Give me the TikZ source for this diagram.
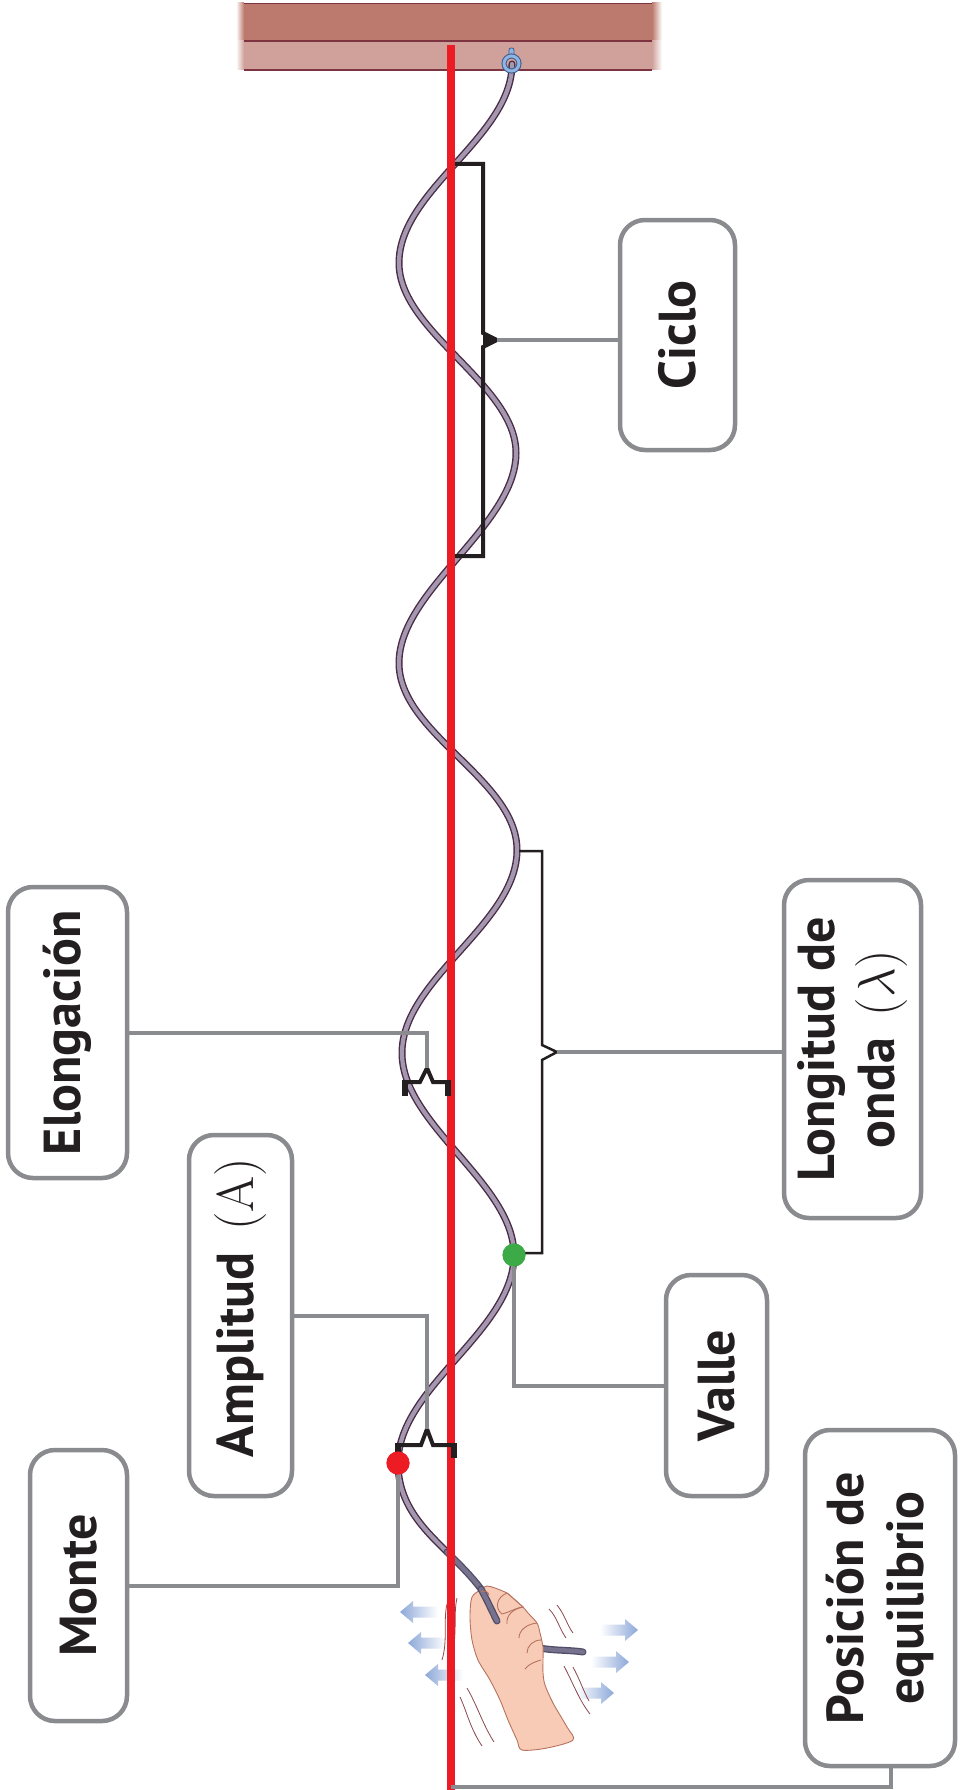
\RequirePackage{fix-cm}
\documentclass[tikz,border=0pt]{standalone}
\usepackage[no-math]{fontspec}
\setmainfont{PT Sans}
\usetikzlibrary{calc}

\definecolor{barTop}{HTML}{BC7A6E}
\definecolor{barBot}{HTML}{D0A09A}
\definecolor{barLine}{HTML}{7E3440}
\definecolor{eqRed}{HTML}{ED1C24}
\definecolor{boxGray}{HTML}{8A8B8E}
\definecolor{ink}{HTML}{231F20}
\definecolor{ropeEdge}{HTML}{4B2B45}
\definecolor{ropeFill}{HTML}{A497B0}
\definecolor{ropeEdgeLow}{HTML}{514D68}
\definecolor{ropeFillLow}{HTML}{77738E}
\definecolor{valleGreen}{HTML}{3DAA48}
\definecolor{arrowBlue}{HTML}{8DA8D9}
\definecolor{skin}{HTML}{F7CBB6}
\definecolor{skinLine}{HTML}{B8735F}
\definecolor{motion}{HTML}{8C4850}
\definecolor{ringBlue}{HTML}{8EB4E3}
\definecolor{ringLine}{HTML}{3C5C8C}

% the hanging rope, from the hook down to the hand
\newcommand{\ropeUpper}{(512,64)
  .. controls (512,137) and (399,190) .. (399,263)
  .. controls (399,332) and (516,384) .. (516,453)
  .. controls (516,526) and (399,590) .. (399,663)
  .. controls (399,734) and (517,779) .. (517,850)
  .. controls (517,924) and (402,979) .. (402,1053)
  .. controls (402,1125) and (514,1183) .. (514,1255)
  .. controls (514,1331) and (398,1387) .. (398,1463)
  .. controls (398,1505) and (425,1530) .. (447,1552)}
\newcommand{\ropeLower}{(447,1552)
  .. controls (462,1567) and (472,1577) .. (481,1589)
  .. controls (492,1605) and (505,1632) .. (522,1642)
  .. controls (540,1652) and (565,1649) .. (583,1652)}

\tikzset{
  leftarrow/.pic={\shade[left color=arrowBlue, middle color=arrowBlue, right color=white]
    (0,0) -- (13,-11) -- (13,-5.5) -- (38,-5.5) -- (38,5.5) -- (13,5.5) -- (13,11) -- cycle;},
  rightarrow/.pic={\shade[left color=white, middle color=arrowBlue, right color=arrowBlue]
    (0,-5.5) -- (25,-5.5) -- (25,-11) -- (38,0) -- (25,11) -- (25,5.5) -- (0,5.5) -- cycle;}
}

\begin{document}
\begin{tikzpicture}[x=1pt, y=-1pt,
  labelbox/.style={draw=boxGray, line width=4.5, rounded corners=25, fill=white, inner sep=0pt},
  boxtext/.style={rotate=90, align=center, text=ink, inner sep=0pt,
    font=\fontsize{52}{60}\selectfont\bfseries},
  leader/.style={draw=boxGray, line width=4},
  bracketline/.style={draw=ink, line width=4, miter limit=10},
  thinbracket/.style={draw=ink, line width=2.5, miter limit=10},
  bracketend/.style={draw=ink, line width=5.5},
  dot/.style={circle, inner sep=0pt, minimum size=23},
  motionline/.style={draw=motion, line width=0.8},
  skinstroke/.style={draw=skinLine, line width=0.9}
]
\useasboundingbox (0,0) rectangle (960,1790);
\fill[white] (0,0) rectangle (960,1790);

% ceiling beam
\fill[barTop] (244,3) rectangle (652,41);
\fill[barBot] (244,41) rectangle (652,70);
\shade[left color=white, right color=barTop] (236,3) rectangle (244,41);
\shade[left color=white, right color=barBot] (236,41) rectangle (244,70);
\shade[left color=barTop, right color=white] (652,3) rectangle (662,41);
\shade[left color=barBot, right color=white] (652,41) rectangle (662,70);
\draw[barLine, line width=1.2] (244,3.5) -- (652,3.5);
\draw[barLine, line width=1.4] (244,41) -- (652,41);
\draw[barLine, line width=1.2] (244,70) -- (652,70);

% shaking motion: arrows and strokes around the hand
\pic at (400,1612) {leftarrow};
\pic at (408,1643) {leftarrow};
\pic at (425,1675) {leftarrow};
\pic at (600,1630) {rightarrow};
\pic at (591,1662) {rightarrow};
\pic at (576,1693) {rightarrow};
\draw[motionline] (457,1598) .. controls (453,1615) and (458,1632) .. (451,1662);
\draw[motionline] (447,1604) .. controls (443,1622) and (448,1640) .. (442,1660);
\draw[motionline] (460,1697) .. controls (467,1712) and (470,1728) .. (482,1746);
\draw[motionline] (467,1688) .. controls (477,1705) and (483,1725) .. (494,1742);
\draw[motionline] (549,1609) .. controls (557,1617) and (559,1628) .. (566,1638);
\draw[motionline] (557,1605) .. controls (565,1615) and (567,1625) .. (573,1633);
\draw[motionline] (564,1666) .. controls (573,1683) and (579,1700) .. (590,1714);
\draw[motionline] (573,1667) .. controls (580,1680) and (583,1690) .. (589,1701);

% rope
\draw[ropeEdge, line width=7, line cap=round] \ropeUpper;
\draw[ropeFill, line width=4.2, line cap=round] \ropeUpper;
\draw[ropeEdgeLow, line width=7, line cap=round] \ropeLower;
\draw[ropeFillLow, line width=4.4, line cap=round] \ropeLower;

% hand holding the rope
\filldraw[fill=skin, skinstroke] plot[smooth cycle, tension=0.5] coordinates {
  (482,1589) (472,1597) (470,1617) (472,1640) (478,1660) (490,1680) (500,1700)
  (508,1720) (517,1740) (522,1750) (547,1748) (573,1740) (567,1727) (553,1703)
  (545,1685) (543,1673) (543,1660) (543,1647) (540,1633) (537,1623) (528,1613)
  (523,1607) (513,1598) (507,1593) (495,1588) (487,1586)};
\draw[ropeEdgeLow, line width=7, line cap=round] (481,1589) .. controls (487,1600) and (492,1611) .. (497,1621);
\draw[ropeFillLow, line width=4.4, line cap=round] (481,1589) .. controls (487,1600) and (492,1611) .. (497,1621);
\filldraw[fill=skin, skinstroke] (507,1593) .. controls (497,1597) and (494,1608) .. (502,1614)
  .. controls (510,1612) and (518,1607) .. (523,1607) -- cycle;
\draw[skinstroke] (523,1607) .. controls (513,1609) and (506,1615) .. (507,1624);
\draw[skinstroke] (537,1623) .. controls (527,1624) and (519,1630) .. (519,1638);
\draw[skinstroke] (541,1640) .. controls (533,1640) and (527,1646) .. (527,1653);
\draw[skinstroke] (541,1660) .. controls (534,1662) and (529,1664) .. (525,1669);
\draw[skinstroke] (481,1592) .. controls (484,1590) and (488,1591) .. (489,1595);

% hook in the beam
\filldraw[fill=ringBlue, draw=ringLine, line width=0.8, rounded corners=2] (509,48) rectangle (514,58);
\draw[ringLine, line width=5] (511.5,63.5) circle (7.5);
\draw[ringBlue, line width=3] (511.5,63.5) circle (7.5);

% equilibrium line
\coordinate (redTop) at (451,45);
\coordinate (redBot) at (451,1790);
\coordinate (eqPt) at (451,1787);
\draw[eqRed, line width=7.5] (redTop) -- (redBot);

% brackets
\coordinate (cicloTip) at (497,340);
\coordinate (longTip) at (557,1052);
\coordinate (elPk) at (427,1068);
\coordinate (amPk) at (427,1429);
\draw[bracketline] (455,164) -- (483,164) -- (483,333) -- (cicloTip) -- (483,347) -- (483,556) -- (455,556);
\fill[ink] (483,333) -- (cicloTip) -- (483,347) -- cycle;
\draw[thinbracket] (519,851) -- (542,851) -- (542,1045) -- (longTip) -- (542,1060) -- (542,1253) -- (514,1253);
\draw[bracketline] (405,1088) -- (405,1082) -- (420,1082) -- (elPk) -- (433,1082) -- (448,1082) -- (448,1088);
\draw[bracketend] (405,1080) -- (405,1096);
\draw[bracketend] (448,1080) -- (448,1096);
\draw[bracketline] (398,1451) -- (398,1445) -- (421,1445) -- (amPk) -- (433,1445) -- (454,1445) -- (454,1451);
\draw[bracketend] (398,1443) -- (398,1458);
\draw[bracketend] (454,1443) -- (454,1458);

% label boxes
\node[labelbox, minimum width=115, minimum height=230] (ciclo) at (677.5,335) {};
\node[labelbox, minimum width=119, minimum height=291] (elong) at (67.5,1032.5) {};
\node[labelbox, minimum width=103, minimum height=361] (ampl) at (240.5,1315.5) {};
\node[labelbox, minimum width=97, minimum height=271] (monte) at (78.5,1585.5) {};
\node[labelbox, minimum width=101, minimum height=221] (valle) at (716.5,1385.5) {};
\node[labelbox, minimum width=137, minimum height=338] (longitud) at (852.5,1049) {};
\node[labelbox, minimum width=150, minimum height=336] (posic) at (880,1598) {};

% crest and trough markers
\node[dot, fill=valleGreen] (valleDot) at (514,1255) {};
\node[dot, fill=eqRed] (monteDot) at (398,1463) {};

% leader lines
\draw[leader] (cicloTip) -- (cicloTip -| ciclo.west);
\draw[leader] (longTip) -- (longTip -| longitud.west);
\draw[leader] (elPk) |- (elong.east);
\draw[leader] (amPk) |- (ampl.east);
\draw[leader] (monteDot.south) |- (monte.east);
\draw[leader] (valleDot.south) |- (valle.west);
\draw[leader] (eqPt) -| ([xshift=11pt]posic.south);

% redraw the markers over their leaders
\node[dot, fill=valleGreen] at (valleDot) {};
\node[dot, fill=eqRed] at (monteDot) {};

% box texts
\node[boxtext] (cicloT) at (ciclo.center) {Ciclo};
\node[boxtext] (elongT) at (elong.center) {Elongación};
\node[boxtext] (amplT) at ([yshift=8pt]ampl.center) {Amplitud $\,(\mathrm{A})$};
\node[boxtext] (monteT) at (monte.center) {Monte};
\node[boxtext] (valleT) at (valle.center) {Valle};
\node[boxtext] (longitudT) at (longitud.center) {Longitud de\\onda $\,(\lambda)$};
\node[boxtext] (posicT) at (posic.center) {Posición de\\equilibrio};
\end{tikzpicture}
\end{document}
